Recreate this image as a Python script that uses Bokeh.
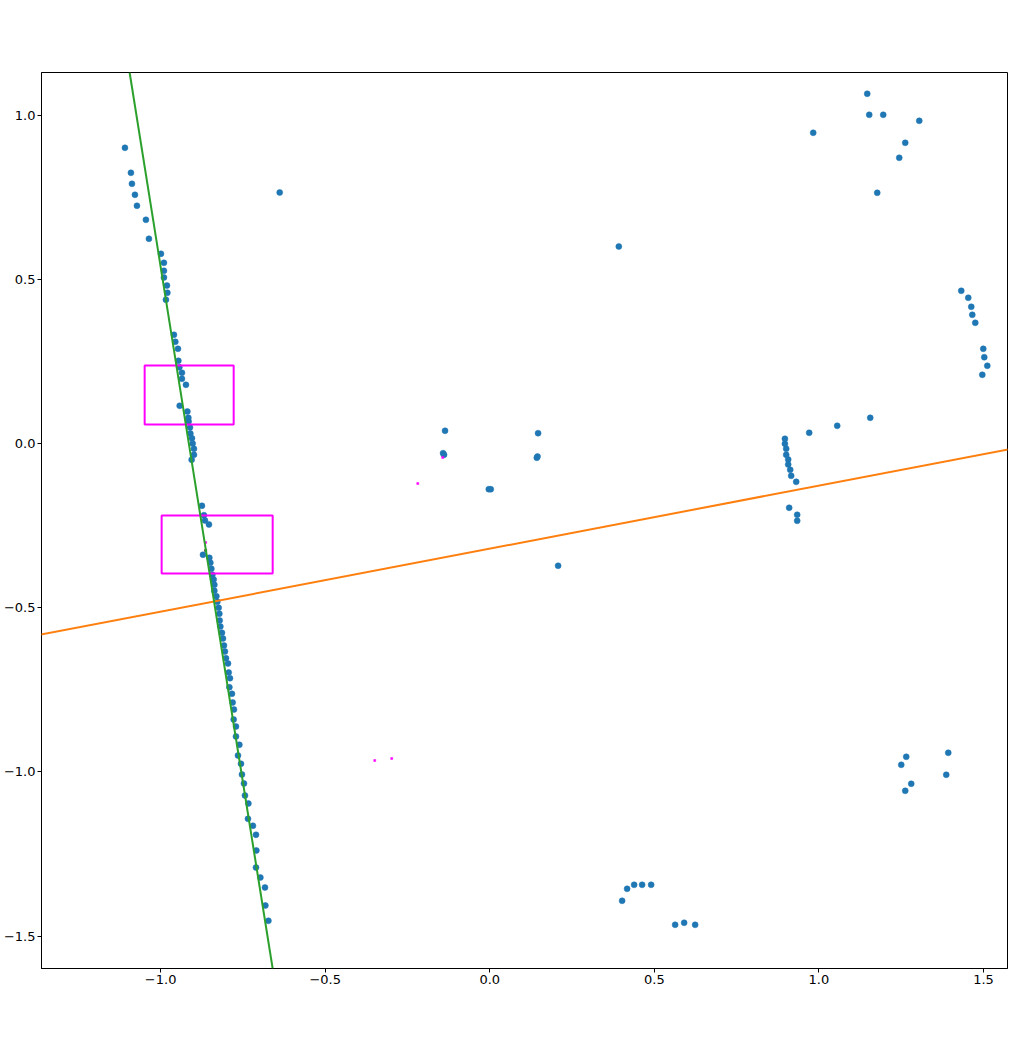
from bokeh.plotting import figure
from bokeh.models import Range1d, Slope, FixedTicker, CustomJSTickFormatter
from bokeh.embed import file_html
from bokeh.resources import INLINE

# ---- data ----
left_x = [-1.1085, -1.0903, -1.0872, -1.0781, -1.0720, -1.0447, -1.0356, -0.9991, -0.9900, -0.9900,
          -0.9900, -0.9809, -0.9796, -0.9839, -0.9596, -0.9553, -0.9474, -0.9462, -0.9432, -0.9353,
          -0.9353, -0.9231, -0.9422, -0.9188, -0.9158, -0.9149, -0.9109, -0.9097, -0.9049, -0.9027,
          -0.8988, -0.8988, -0.9058, -0.8745, -0.8684, -0.8653, -0.8532, -0.8714, -0.8520, -0.8489,
          -0.8459, -0.8429, -0.8389, -0.8368, -0.8368, -0.8307, -0.8277, -0.8237, -0.8216, -0.8207,
          -0.8185, -0.8137, -0.8106, -0.8076, -0.8046, -0.8015, -0.7954, -0.7933, -0.7894, -0.7912,
          -0.7833, -0.7812, -0.7772, -0.7781, -0.7711, -0.7711, -0.7608, -0.7650, -0.7559, -0.7529,
          -0.7468, -0.7438, -0.7334, -0.7347, -0.7195, -0.7103, -0.7091, -0.7103, -0.6970, -0.6830,
          -0.6818, -0.6726]
left_y = [0.9004, 0.8243, 0.7908, 0.7573, 0.7238, 0.6812, 0.6233, 0.5776, 0.5502, 0.5259,
          0.5055, 0.4811, 0.4589, 0.4376, 0.3310, 0.3097, 0.2884, 0.2518, 0.2323, 0.2153,
          0.1970, 0.1787, 0.1148, 0.0974, 0.0783, 0.0670, 0.0487, 0.0305, 0.0161, 0.0000,
          -0.0161, -0.0344, -0.0496, -0.1897, -0.2183, -0.2345, -0.2467, -0.3389, -0.3481, -0.3633,
          -0.3815, -0.3998, -0.4141, -0.4303, -0.4485, -0.4650, -0.4820, -0.5003, -0.5186, -0.5390,
          -0.5572, -0.5764, -0.5938, -0.6151, -0.6334, -0.6538, -0.6699, -0.6973, -0.7147, -0.7421,
          -0.7622, -0.7887, -0.8100, -0.8404, -0.8618, -0.8922, -0.9175, -0.9501, -0.9753, -1.0079,
          -1.0353, -1.0719, -1.0962, -1.1428, -1.1641, -1.1915, -1.2393, -1.2911, -1.3216, -1.3520,
          -1.4068, -1.4534]

mid_x = [-0.6383, 0.3921, -0.1359, -0.1419, -0.1389, 0.1468, 0.1429, 0.1450, -0.0030, 0.0030, 0.2076]
mid_y = [0.7643, 0.5999, 0.0387, -0.0295, -0.0344, 0.0314, -0.0435, -0.0396, -0.1392, -0.1392, -0.3724]

right_x = [1.1559, 1.0556, 0.9705, 0.8967, 0.8967, 0.9006, 0.9006, 0.9067, 0.9067, 0.9128,
           0.9158, 0.9310, 0.9097, 0.9340, 0.9340]
right_y = [0.0783, 0.0539, 0.0326, 0.0143, -0.0009, -0.0161, -0.0344, -0.0487, -0.0639, -0.0801,
           -0.0984, -0.1166, -0.1958, -0.2171, -0.2354]

far_x = [1.4325, 1.4538, 1.4629, 1.4660, 1.4751, 1.4994, 1.5024, 1.5116, 1.4964]
far_y = [0.4650, 0.4437, 0.4163, 0.3919, 0.3675, 0.2884, 0.2628, 0.2366, 0.2092]

top_x = [1.1468, 1.1529, 1.1954, 1.3049, 0.9827, 1.2623, 1.2441, 1.1772]
top_y = [1.0649, 1.0009, 1.0009, 0.9826, 0.9461, 0.9156, 0.8700, 0.7634]

br_x = [1.2653, 1.2502, 1.3930, 1.3869, 1.2805, 1.2623]
br_y = [-0.9540, -0.9784, -0.9418, -1.0088, -1.0362, -1.0576]

bot_x = [0.4021, 0.4173, 0.4386, 0.4629, 0.4903, 0.5632, 0.5906, 0.6240]
bot_y = [-1.3925, -1.3560, -1.3438, -1.3438, -1.3438, -1.4656, -1.4595, -1.4656]

# fitted lines (gradient, intercept)
orange_gradient, orange_intercept = 0.1919, -0.3202
green_gradient, green_intercept = -6.278, -5.740

# boxes
box_left = [-1.0486, -0.9970]
box_right = [-0.7781, -0.6596]
box_top = [0.2375, -0.2192]
box_bottom = [0.0579, -0.3959]

# tiny marks
tiny_x = [-0.2188, -0.1429, -0.3495, -0.2979, -0.8632]
tiny_y = [-0.1218, -0.0426, -0.9653, -0.9592, -0.3015]
black_x = [-0.8632]
black_y = [-0.3259]

x_ticks = [-1.0, -0.5, 0.0, 0.5, 1.0, 1.5]
y_ticks = [-1.5, -1.0, -0.5, 0.0, 0.5, 1.0]

# ---- figure ----
p = figure(frame_width=966, frame_height=896,
           x_range=Range1d(-1.362, 1.573), y_range=Range1d(-1.5987, 1.1297),
           output_backend="svg", toolbar_location=None,
           min_border_left=31, min_border_top=72, min_border_right=19, min_border_bottom=45)
p.background_fill_color = "white"
p.border_fill_color = "white"
p.outline_line_color = "black"
p.outline_line_width = 1
p.xgrid.visible = False
p.ygrid.visible = False

fmt = CustomJSTickFormatter(code="return tick.toFixed(1).replace('-', '\\u2212');")
for ax, ticks in ((p.xaxis[0], x_ticks), (p.yaxis[0], y_ticks)):
    ax.ticker = FixedTicker(ticks=ticks)
    ax.formatter = fmt
    ax.minor_tick_line_color = None
    ax.major_tick_in = 0
    ax.major_tick_out = 4
    ax.major_label_standoff = 2
    ax.major_label_text_font = "DejaVu Sans"
    ax.major_label_text_font_size = "13px"
    ax.major_label_text_color = "black"
    ax.axis_line_color = "black"
    ax.major_tick_line_color = "black"

blue = "#1f77b4"
for xs, ys in ((left_x, left_y), (mid_x, mid_y), (right_x, right_y), (far_x, far_y),
               (top_x, top_y), (br_x, br_y), (bot_x, bot_y)):
    p.scatter(xs, ys, size=6, fill_color=blue, line_color=blue, line_width=0.5)

p.add_layout(Slope(gradient=orange_gradient, y_intercept=orange_intercept,
                   line_color="#ff7f0e", line_width=2))
p.add_layout(Slope(gradient=green_gradient, y_intercept=green_intercept,
                   line_color="#2ca02c", line_width=2))

p.quad(left=box_left, right=box_right, top=box_top, bottom=box_bottom,
       fill_color=None, line_color="#ff00ff", line_width=2)

p.scatter(tiny_x, tiny_y, marker="square", size=2, fill_color="#ff00ff", line_color="#ff00ff", line_width=0.5)
p.scatter(black_x, black_y, marker="square", size=2, fill_color="black", line_color="black", line_width=0.5)

open("out.html", "w").write(file_html(p, INLINE))
